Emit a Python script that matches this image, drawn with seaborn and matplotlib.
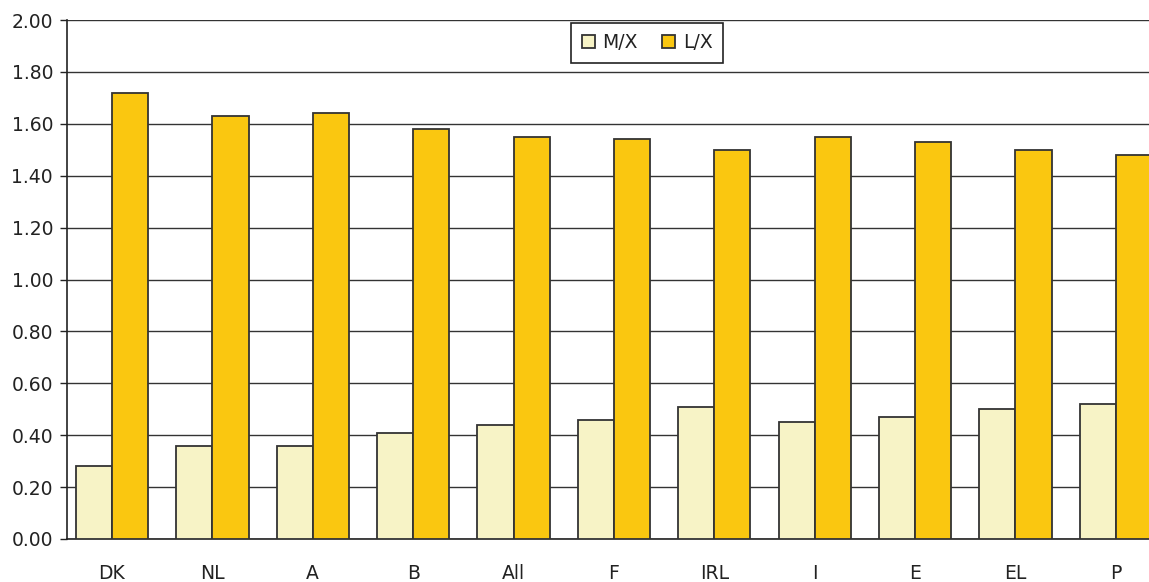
import matplotlib
matplotlib.use("Agg")
import matplotlib.pyplot as plt
import seaborn as sns
import pandas as pd
import numpy as np

countries = ["DK", "NL", "A", "B", "All", "F", "IRL", "I", "E", "EL", "P"]
m_x = [0.28, 0.36, 0.36, 0.41, 0.44, 0.46, 0.51, 0.45, 0.47, 0.50, 0.52]
l_x = [1.72, 1.63, 1.64, 1.58, 1.55, 1.54, 1.50, 1.55, 1.53, 1.50, 1.48]
series = ["M/X", "L/X"]
y_ticks = [0.0, 0.2, 0.4, 0.6, 0.8, 1.0, 1.2, 1.4, 1.6, 1.8, 2.0]

df = pd.DataFrame({
    "country": countries * 2,
    "ratio": m_x + l_x,
    "series": [series[0]] * len(countries) + [series[1]] * len(countries),
})

sns.set_style("white")
plt.rcParams["font.family"] = ["DejaVu Sans"]

W, H = 1149, 582
FS = 13.5
fig = plt.figure(figsize=(W / 100, H / 100), dpi=100)
left, right, top, bottom = 67, 1149, 20, 539
ax = fig.add_axes([left / W, (H - bottom) / H, (right - left) / W, (bottom - top) / H])

palette = {"M/X": "#F7F3C6", "L/X": "#FAC710"}
sns.barplot(data=df, x="country", y="ratio", hue="series", order=countries,
            hue_order=series, palette=palette, width=0.72, dodge=True,
            edgecolor="#333333", linewidth=1.3, saturation=1, ax=ax, zorder=3)

ax.set_ylim(0, 2.0)
ax.set_xlim(-0.448, 10.33)
ax.set_yticks(y_ticks)
ax.set_yticklabels([f"{v:.2f}" for v in y_ticks], fontsize=FS, color="#222222")
ax.yaxis.grid(True, color="#333333", linewidth=1.0, zorder=0)
ax.set_axisbelow(True)

# category labels centred under each group, boundary ticks between groups
ax.set_xticks(range(len(countries)))
ax.set_xticklabels(countries, fontsize=FS, color="#222222")
ax.tick_params(axis="x", which="major", length=0, pad=18)
ax.set_xticks([i - 0.47 for i in range(1, len(countries))], minor=True)
ax.tick_params(axis="x", which="minor", length=4.5, width=1.2, color="#222222", direction="out")
ax.tick_params(axis="y", length=5, width=1.0, color="#222222", direction="out", left=True, pad=5)

for side in ["top", "right"]:
    ax.spines[side].set_visible(False)
for side in ["left", "bottom"]:
    ax.spines[side].set_color("#222222")
    ax.spines[side].set_linewidth(1.2)

ax.set_xlabel("")
ax.set_ylabel("")

handles, labels = ax.get_legend_handles_labels()
leg = ax.legend(handles, labels, loc="upper center", bbox_to_anchor=(0.536, 0.994),
                borderaxespad=0, ncol=2, fontsize=FS, frameon=True, fancybox=False,
                framealpha=1, edgecolor="#222222", handlelength=0.7, handleheight=0.7,
                handletextpad=0.4, columnspacing=1.3, borderpad=0.55)
leg.get_frame().set_linewidth(1.2)
for t in leg.get_texts():
    t.set_color("#222222")

fig.savefig("out.png", dpi=100)
